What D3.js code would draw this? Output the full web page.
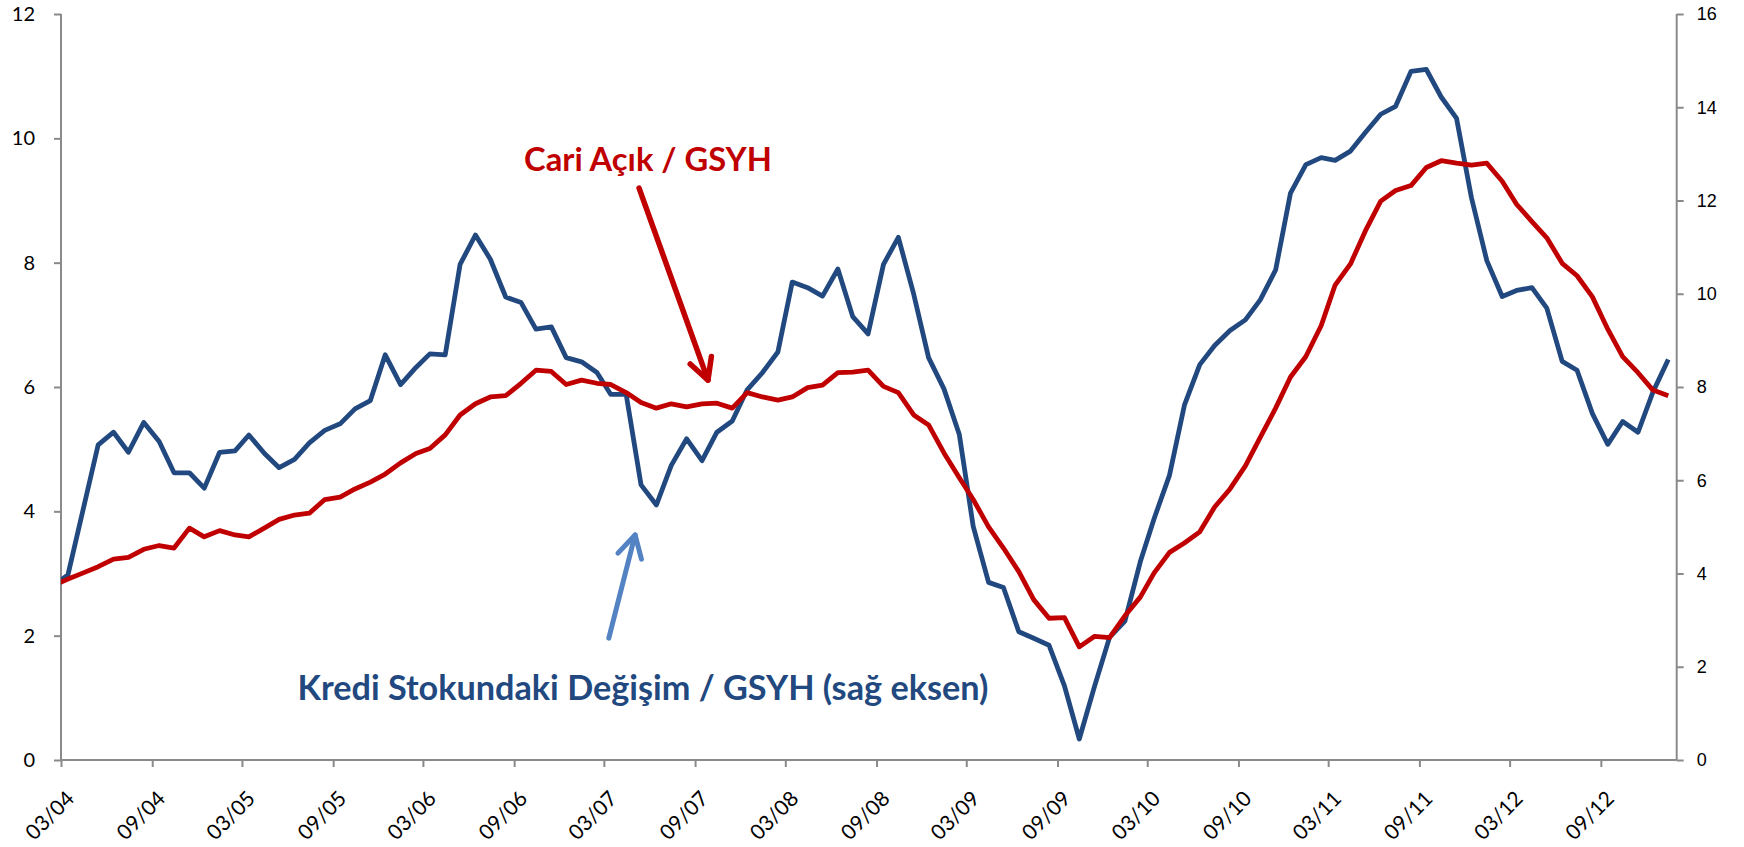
<!DOCTYPE html>
<html><head><meta charset="utf-8">
<script src="https://cdn.jsdelivr.net/npm/d3@7"></script>
<style>body{margin:0;background:#fff}svg{display:block}</style>
</head><body>
<svg id="chart" width="1744" height="847"></svg>
<script>
// ---- DATA (monthly, first month Feb-2004 is clipped by the axis) ----
const firstMonth = "2004-02";
// Cari Açık / GSYH (left axis)
const cariAcik = [2.81,2.91,3.01,3.11,3.23,3.26,3.39,3.45,3.41,3.73,3.59,3.69,3.62,3.59,3.73,3.87,3.94,3.97,4.19,4.23,4.36,4.47,4.60,4.78,4.93,5.01,5.23,5.55,5.73,5.84,5.86,6.06,6.27,6.25,6.04,6.11,6.06,6.04,5.91,5.75,5.66,5.73,5.68,5.73,5.74,5.66,5.91,5.84,5.79,5.84,5.99,6.03,6.23,6.24,6.27,6.01,5.91,5.55,5.39,4.94,4.54,4.19,3.75,3.41,3.03,2.58,2.28,2.29,1.82,1.99,1.97,2.32,2.62,3.01,3.34,3.49,3.67,4.07,4.36,4.73,5.19,5.66,6.16,6.49,6.99,7.64,7.98,8.51,8.99,9.16,9.24,9.53,9.64,9.60,9.57,9.60,9.31,8.94,8.66,8.40,7.99,7.79,7.45,6.93,6.49,6.23,5.95,5.86];
// Kredi Stokundaki Değişim / GSYH (right axis)
const krediDegisim = [3.75,3.97,5.39,6.76,7.03,6.60,7.24,6.83,6.16,6.16,5.83,6.60,6.63,6.97,6.58,6.27,6.45,6.80,7.07,7.21,7.53,7.71,8.69,8.05,8.42,8.71,8.69,10.63,11.26,10.74,9.93,9.81,9.24,9.29,8.63,8.54,8.31,7.84,7.84,5.90,5.47,6.32,6.89,6.42,7.03,7.27,7.94,8.31,8.75,10.25,10.13,9.95,10.53,9.51,9.14,10.63,11.21,9.99,8.63,7.96,6.98,5.01,3.81,3.70,2.75,2.61,2.46,1.59,0.45,1.59,2.63,2.98,4.25,5.18,6.11,7.61,8.48,8.89,9.21,9.44,9.87,10.51,12.16,12.77,12.92,12.86,13.06,13.46,13.85,14.02,14.77,14.81,14.22,13.76,12.06,10.71,9.94,10.07,10.13,9.69,8.55,8.36,7.43,6.77,7.26,7.03,7.89,8.59];
const xTickLabels = ["03/04","09/04","03/05","09/05","03/06","09/06","03/07","09/07","03/08","09/08","03/09","09/09","03/10","09/10","03/11","09/11","03/12","09/12"];
const leftTicks = [0,2,4,6,8,10,12];
const rightTicks = [0,2,4,6,8,10,12,14,16];
const axisStart = "03/04", axisEnd = "02/13";
const labelCari = "Cari Açık / GSYH";
const labelKredi = "Kredi Stokundaki Değişim / GSYH (sağ eksen)";

// ---- LAYOUT ----
const L = 61, R = 1676.7, T = 14, B = 760;
const svg = d3.select("#chart");
const parseTick = d3.timeParse("%m/%y");
const parseMonth = d3.timeParse("%Y-%m");
const x = d3.scaleTime().domain([parseTick(axisStart), parseTick(axisEnd)]).range([L, R]);
const yL = d3.scaleLinear().domain([0, 12]).range([B, T]);
const yR = d3.scaleLinear().domain([0, 16]).range([B, T]);

const dates = cariAcik.map((_, i) => d3.timeDay.offset(d3.timeMonth.offset(parseMonth(firstMonth), i), 14));

svg.append("defs").append("clipPath").attr("id", "plot")
  .append("rect").attr("x", L).attr("y", 0).attr("width", R - L).attr("height", B + 5);

const axisColor = "#8a8a8a";
const gL = svg.append("g").attr("transform", `translate(${L},0)`)
  .call(d3.axisLeft(yL).tickValues(leftTicks).tickSize(7).tickPadding(19).tickFormat(d3.format("d")));
const gR = svg.append("g").attr("transform", `translate(${R},0)`)
  .call(d3.axisRight(yR).tickValues(rightTicks).tickSize(7).tickPadding(13).tickFormat(d3.format("d")));
const gB = svg.append("g").attr("transform", `translate(0,${B})`)
  .call(d3.axisBottom(x).tickValues(xTickLabels.map(parseTick)).tickSize(7).tickFormat(d3.timeFormat("%m/%y")));

[gL, gR, gB].forEach(g => {
  g.select(".domain").attr("stroke", axisColor).attr("stroke-width", 2);
  g.selectAll(".tick line").attr("stroke", axisColor).attr("stroke-width", 2);
});
gL.selectAll("text").attr("font-family", "Lato, sans-serif").attr("font-size", 20).attr("fill", "#000");
gR.selectAll("text").attr("font-family", "'Liberation Sans', Arial, sans-serif").attr("font-size", 18).attr("fill", "#000");
gB.selectAll("text").attr("font-family", "Lato, sans-serif").attr("font-size", 21).attr("fill", "#000")
  .attr("text-anchor", "end").attr("dy", 0).attr("y", 0)
  .attr("transform", "translate(14,40) rotate(-45)");
gL.select(".domain").attr("d", `M0,${T}V${B}`);
gR.select(".domain").attr("d", `M0,${T}V${B}`);
gB.select(".domain").attr("d", `M${L},0H${R}`);

// ---- LINES ----
const plot = svg.append("g").attr("clip-path", "url(#plot)");
const lineL = d3.line().x((d, i) => x(dates[i])).y(d => yL(d));
const lineR = d3.line().x((d, i) => x(dates[i])).y(d => yR(d));
plot.append("path").datum(krediDegisim).attr("d", lineR)
  .attr("fill", "none").attr("stroke", "#22497F").attr("stroke-width", 4.8).attr("stroke-linejoin", "round");
plot.append("path").datum(cariAcik).attr("d", lineL)
  .attr("fill", "none").attr("stroke", "#C00000").attr("stroke-width", 4.8).attr("stroke-linejoin", "round");

// ---- ANNOTATIONS (data space: month offset from axis start, left-axis value) ----
const mx = m => x(d3.timeDay.offset(d3.timeMonth.offset(parseTick(axisStart), Math.floor(m)), (m % 1) * 30));
const redArrow = {from: [38.34, 9.2], to: [42.87, 6.11]};
const blueArrow = {from: [36.34, 1.96], to: [38.08, 3.62]};
const redText = {at: [30.7, 9.48], width: 248};
const blueText = {at: [15.7, 0.965], width: 691};

function arrow(a, color, w, len, ang) {
  const x1 = mx(a.from[0]), y1 = yL(a.from[1]), x2 = mx(a.to[0]), y2 = yL(a.to[1]);
  const th = Math.atan2(y1 - y2, x1 - x2), r = ang * Math.PI / 180;
  const w1 = [x2 + len * Math.cos(th + r), y2 + len * Math.sin(th + r)];
  const w2 = [x2 + len * Math.cos(th - r), y2 + len * Math.sin(th - r)];
  const g = svg.append("g").attr("stroke", color).attr("stroke-width", w).attr("fill", "none")
    .attr("stroke-linecap", "round").attr("stroke-linejoin", "round");
  g.append("path").attr("d", d3.line()([[x1, y1], [x2, y2]]));
  g.append("path").attr("d", d3.line()([w1, [x2, y2], w2]));
}
arrow(redArrow, "#C00000", 5.5, 24, 28);
arrow(blueArrow, "#5483C3", 5, 25, 29);

function label(t, spec, color) {
  const el = svg.append("text").text(t).attr("x", mx(spec.at[0])).attr("y", yL(spec.at[1]))
    .attr("font-family", "Lato, sans-serif").attr("font-weight", "bold").attr("font-size", 30).attr("fill", color);
  const w = el.node().getComputedTextLength();
  el.attr("font-size", 30 * spec.width / w);
}
label(labelCari, redText, "#C00000");
label(labelKredi, blueText, "#22497F");
</script>
</body></html>
